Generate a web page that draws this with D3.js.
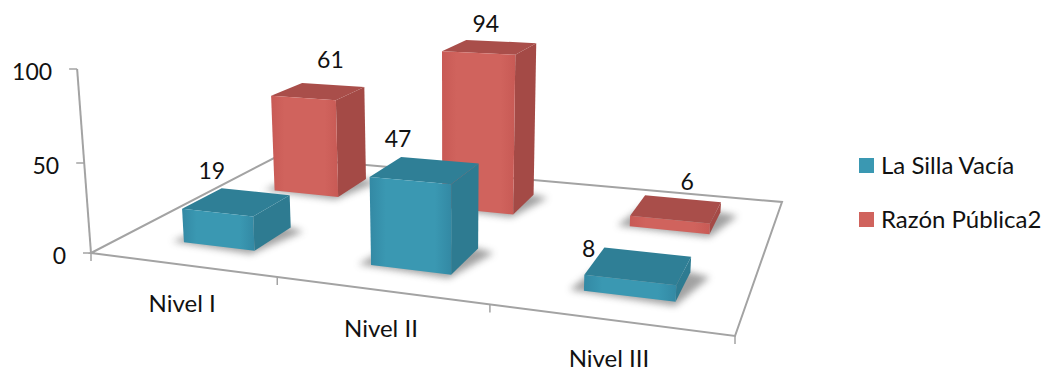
<!DOCTYPE html>
<html><head><meta charset="utf-8">
<script src="https://cdnjs.cloudflare.com/ajax/libs/d3/7.8.5/d3.min.js"></script>
<style>html,body{margin:0;background:#fff}svg{display:block}text{font-family:Lato,Carlito,sans-serif;fill:#111}</style>
</head><body><svg id="c" width="1044" height="371"></svg>
<script>
const categories = ["Nivel I","Nivel II","Nivel III"];
const seriesNames = ["La Silla Vacía","Razón Pública2"];
const silla = [19,47,8];
const razon = [61,94,6];
const yTicks = [0,50,100];
const seriesValues = [silla, razon];

const FL=[91,253],FR=[735,336],BR=[782,202],BL=[276,157];
const den=(FR[0]-BR[0])*(BL[1]-BR[1])-(BL[0]-BR[0])*(FR[1]-BR[1]);
const sx=FL[0]-FR[0]+BR[0]-BL[0], sy=FL[1]-FR[1]+BR[1]-BL[1];
const G=(sx*(BL[1]-BR[1])-(BL[0]-BR[0])*sy)/den;
const H=((FR[0]-BR[0])*sy-sx*(FR[1]-BR[1]))/den;
const A=FR[0]-FL[0]+G*FR[0],B=BL[0]-FL[0]+H*BL[0],D=FR[1]-FL[1]+G*FR[1],E=BL[1]-FL[1]+H*BL[1];
const height=d3.scaleLinear().domain([0,50,100]).range([0,90,184]);
const XC=450, TILT=0.00021;
function proj(u,v,val){
  const w=G*u+H*v+1;
  const x=(A*u+B*v+FL[0])/w, y=(D*u+E*v+FL[1])/w;
  const h=height(val||0)/w;
  return [x+(x-XC)*TILT*h, y-h];
}
const uScale=d3.scaleBand().domain(categories).range([0,1]).paddingInner(0.608).paddingOuter(0.31).align(0.549);
const vScale=d3.scaleBand().domain(seriesNames).range([0,1]).paddingInner(0.6).paddingOuter(0.3).align(0.5);
const colors={
 "La Silla Vacía":{front:"#3a98b2",front2:"#3389a4",top:"#2f7f96",side:"#2e7b91"},
 "Razón Pública2":{front:"#d0635d",front2:"#c85a55",top:"#a94e4a",side:"#a44a46"}};

const svg=d3.select("#c");
const defs=svg.append("defs");
defs.append("filter").attr("id","blur").attr("x","-30%").attr("y","-60%").attr("width","160%").attr("height","220%")
  .append("feGaussianBlur").attr("stdDeviation",3.5);
seriesNames.forEach((s,i)=>{
  const g=defs.append("linearGradient").attr("id","f"+i);
  [[0,colors[s].front2],[.2,colors[s].front],[.8,colors[s].front],[1,colors[s].front2]].forEach(([o,c])=>g.append("stop").attr("offset",o).attr("stop-color",c));
});
const line=d3.line();
const AXIS="#a3a3a3";
svg.append("path").attr("d",line([FL,FR,BR,BL])+"Z").attr("fill","none").attr("stroke",AXIS).attr("stroke-width",2);
const cut=d3.range(0,categories.length+1).map(i=>i/categories.length);
cut.forEach(u=>{const p=proj(u,0,0);svg.append("line").attr("x1",p[0]).attr("x2",p[0]).attr("y1",p[1]).attr("y2",p[1]+8).attr("stroke",AXIS).attr("stroke-width",1.5);});
const axisTop=proj(0,0,100);
svg.append("line").attr("x1",FL[0]).attr("y1",FL[1]).attr("x2",axisTop[0]).attr("y2",axisTop[1]).attr("stroke",AXIS).attr("stroke-width",2);
yTicks.forEach(t=>{const p=proj(0,0,t);
  svg.append("line").attr("x1",p[0]-8).attr("x2",p[0]).attr("y1",p[1]).attr("y2",p[1]).attr("stroke",AXIS).attr("stroke-width",1.5);
  svg.append("text").attr("x",p[0]-25).attr("y",p[1]+11).attr("text-anchor","end").attr("font-size",23).text(t);
});
categories.forEach((c,i)=>{const p=proj((i+.5)/categories.length,0,0);
  svg.append("text").attr("x",p[0]+1).attr("y",p[1]+47).attr("text-anchor","middle").attr("font-size",24).text(c);});
const bars=[];
[1,0].forEach(si=>categories.forEach((c,ci)=>bars.push({si,ci,s:seriesNames[si],c,val:seriesValues[si][ci]})));
const labelNudge={"0-0":[-25,-23],"1-0":[12,-23],"0-1":[-27,-23],"1-1":[-4,-15],"0-2":[-50,-9],"1-2":[11,-19]};
const gBars=svg.append("g");
bars.forEach(b=>{
  const u0=uScale(b.c),u1=u0+uScale.bandwidth(),v0=vScale(b.s),v1=v0+vScale.bandwidth();
  const P=proj;
  const col=colors[b.s];
  gBars.append("path").attr("d",line([P(u0-.02,v0-.005,0),P(u1+.002,v0-.025,0),P(u1+.03,v1-.02,0),P(u1-.0,v1,0),P(u0,v1,0)])+"Z")
    .attr("fill","#555").attr("opacity",.55).attr("filter","url(#blur)");
  gBars.append("path").attr("d",line([P(u1,v0,0),P(u1,v1,0),P(u1,v1,b.val),P(u1,v0,b.val)])+"Z").attr("fill",col.side);
  gBars.append("path").attr("d",line([P(u0,v0,b.val),P(u1,v0,b.val),P(u1,v1,b.val),P(u0,v1,b.val)])+"Z").attr("fill",col.top);
  gBars.append("path").attr("d",line([P(u0,v0,0),P(u1,v0,0),P(u1,v0,b.val),P(u0,v0,b.val)])+"Z").attr("fill",`url(#f${b.si})`);
  const tc=P((u0+u1)/2,(v0+v1)/2,b.val), n=labelNudge[b.si+"-"+b.ci];
  svg.append("text").attr("class","dl").attr("x",tc[0]+n[0]).attr("y",tc[1]+n[1]).attr("text-anchor","middle").attr("font-size",23).text(b.val);
});
svg.selectAll("text.dl").raise();
const legendY=d3.scalePoint().domain(seriesNames).range([165.5,219.5]);
seriesNames.forEach(s=>{
  svg.append("rect").attr("x",859).attr("y",legendY(s)-7.5).attr("width",15).attr("height",15).attr("fill",colors[s].front);
  svg.append("text").attr("x",881).attr("y",legendY(s)+8).attr("font-size",24).text(s);
});
</script></body></html>
